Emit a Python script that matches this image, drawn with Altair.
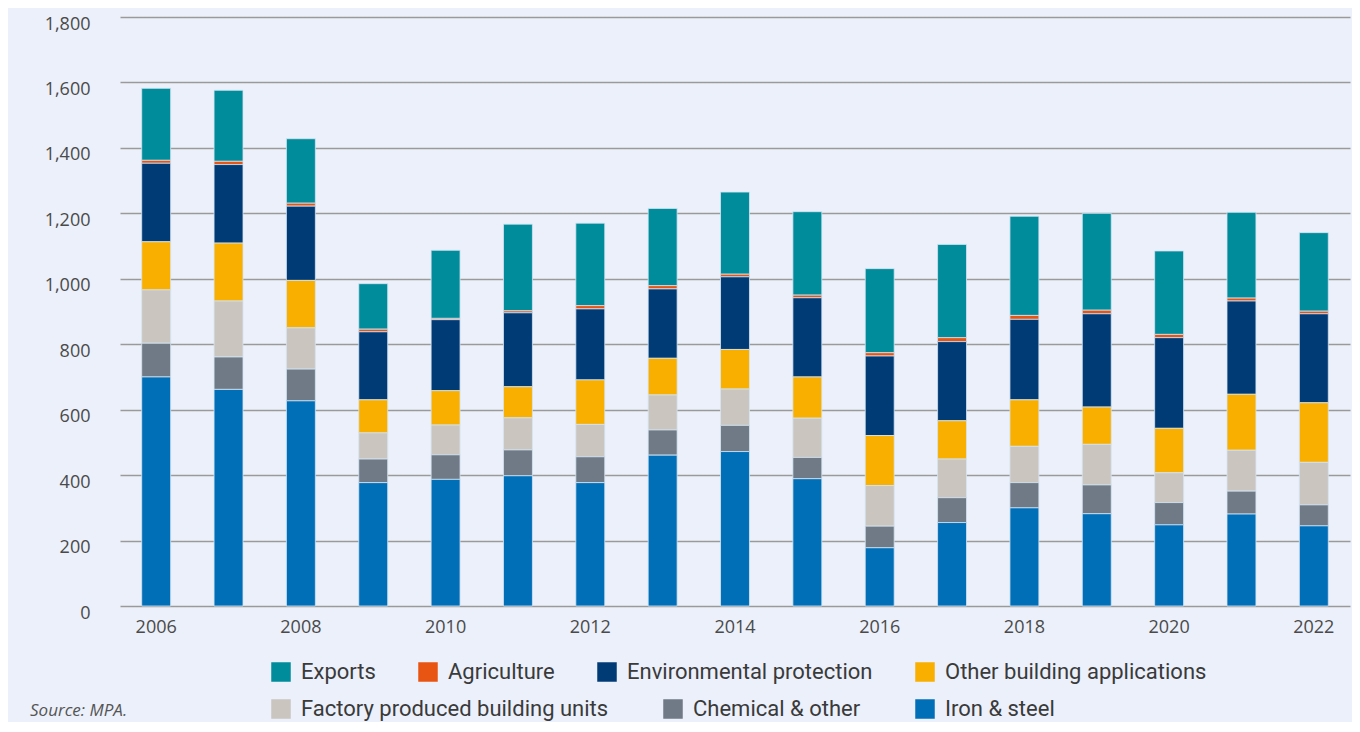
import altair as alt
import pandas as pd

years = list(range(2006, 2023))
series = ["Exports", "Agriculture", "Environmental protection", "Other building applications",
          "Factory produced building units", "Chemical & other", "Iron & steel"]
colors = ["#008C9B", "#E85412", "#003B75", "#F9AF00", "#CAC6BF", "#6F7A86", "#006FB8"]

iron = [700, 662, 627, 377, 387, 398, 377, 461, 472, 389, 178, 255, 300, 282, 248, 281, 245]
chemical = [103, 99, 97, 72, 75, 79, 79, 77, 80, 65, 66, 76, 77, 88, 68, 70, 64]
factory = [163, 171, 126, 80, 91, 98, 99, 107, 111, 120, 124, 118, 111, 124, 91, 125, 130]
other_building = [147, 177, 145, 101, 105, 95, 136, 112, 121, 126, 153, 117, 142, 114, 136, 171, 182]
environmental = [240, 240, 227, 208, 217, 226, 217, 212, 222, 242, 243, 242, 246, 285, 277, 285, 272]
agriculture = [9, 10, 9, 8, 4, 6, 10, 10, 8, 8, 10, 12, 12, 11, 10, 9, 8]
exports = [220, 217, 197, 139, 208, 265, 252, 236, 251, 255, 257, 285, 303, 296, 255, 262, 240]

values = {
    "Exports": exports,
    "Agriculture": agriculture,
    "Environmental protection": environmental,
    "Other building applications": other_building,
    "Factory produced building units": factory,
    "Chemical & other": chemical,
    "Iron & steel": iron,
}

rows = []
for s_idx, s in enumerate(series):
    for y, v in zip(years, values[s]):
        rows.append({"Year": y, "Series": s, "Value": v, "Order": len(series) - s_idx})
df = pd.DataFrame(rows)

row1 = series[:4]
row2 = series[4:]
col1 = colors[:4]
col2 = colors[4:]

x_enc = alt.X("Year:O", title=None,
              scale=alt.Scale(paddingInner=0.6, paddingOuter=0.3),
              axis=alt.Axis(labelAngle=0, labelExpr="datum.value % 2 == 0 ? datum.label : ''",
                            domain=False, ticks=False, labelPadding=12, labelFont="Open Sans",
                            labelFontSize=18, labelColor="#4a4a4a"))
y_enc = alt.Y("v0:Q", title=None,
              scale=alt.Scale(domain=[0, 1800], nice=False),
              axis=alt.Axis(values=list(range(0, 1801, 200)), format=",d", domain=False, ticks=False,
                            labelPadding=30, labelFont="Open Sans", labelFontSize=18, labelOffset=7,
                            labelColor="#4a4a4a", gridColor="#9a9a9a", gridWidth=1.5))

base = alt.Chart(df).transform_stack(
    stack="Value", groupby=["Year"], as_=["v0", "v1"], sort=[alt.SortField("Order", order="ascending")]
)

legend_common = dict(orient="none", direction="horizontal", symbolType="square",
                     symbolSize=380, symbolStrokeWidth=0, labelFont="Roboto",
                     labelFontSize=22, labelColor="#3a3a3a", labelOffset=9, labelLimit=400)

bars1 = base.transform_filter(alt.FieldOneOfPredicate(field="Series", oneOf=row1)).mark_bar(
    stroke="#d6e4f2", strokeWidth=0.8
).encode(
    x=x_enc, y=y_enc, y2="v1:Q",
    color=alt.Color("Series:N", title=None, scale=alt.Scale(domain=row1, range=col1),
                    legend=alt.Legend(legendX=150, legendY=644, columnPadding=41, **legend_common)),
)

bars2 = base.transform_filter(alt.FieldOneOfPredicate(field="Series", oneOf=row2)).mark_bar(
    stroke="#d6e4f2", strokeWidth=0.8
).encode(
    x=x_enc, y=y_enc, y2="v1:Q",
    color=alt.Color("Series:N", title=None, scale=alt.Scale(domain=row2, range=col2),
                    legend=alt.Legend(legendX=150, legendY=681, columnPadding=53, **legend_common)),
)

source = alt.Chart(pd.DataFrame({"t": ["Source: MPA."]})).mark_text(
    align="left", baseline="alphabetic", font="Open Sans", fontStyle="italic",
    fontSize=17, color="#555555"
).encode(text="t:N", x=alt.value(-90), y=alt.value(699))

chart = alt.layer(bars1, bars2, source).resolve_scale(color="independent").properties(
    width=1230, height=589,
    autosize=alt.AutoSizeParams(type="none"),
    padding={"left": 112, "top": 9, "right": 2, "bottom": 116},
    background="#EBF0FA",
).configure_view(stroke=None)

chart.save("out.html", embed_options={"renderer": "svg", "actions": False})
